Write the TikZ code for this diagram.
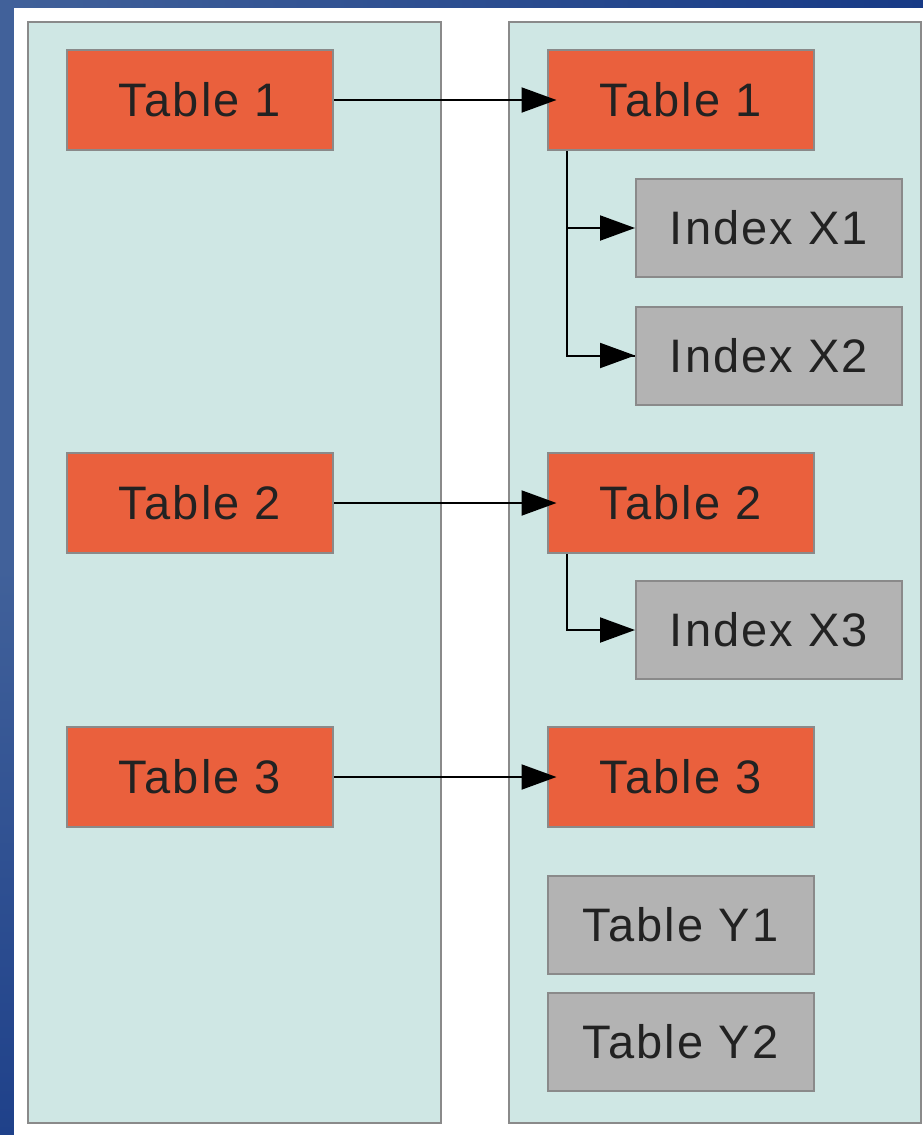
\documentclass[tikz,border=0pt]{standalone}
\usepackage{fontspec}
\setmainfont{Liberation Sans}[LetterSpace=4.5]
\usetikzlibrary{arrows.meta,calc}
\definecolor{frameblue}{HTML}{173A86}
\definecolor{frameblueL}{HTML}{41619A}
\definecolor{frameblueB}{HTML}{1F418A}
\definecolor{panel}{HTML}{CFE7E4}
\definecolor{tablefill}{HTML}{EA603D}
\definecolor{greyfill}{HTML}{B3B3B3}
\definecolor{edgegrey}{HTML}{8A8A8A}
\definecolor{ink}{HTML}{222222}
\tikzset{
  panelbox/.style={draw=edgegrey, line width=2.2pt, fill=panel},
  tbl/.style={draw=edgegrey, line width=2pt, fill=tablefill, minimum width=266pt,
    minimum height=100pt, inner sep=0pt, text=ink, font=\fontsize{47}{50}\selectfont},
  idx/.style={tbl, fill=greyfill, minimum height=98pt},
  link/.style={draw=black, line width=2pt,
    -{Triangle[length=35pt,width=25pt]}},
  branch/.style={draw=black, line width=2pt}
}
\begin{document}
\begin{tikzpicture}[x=1pt,y=-1pt]
\useasboundingbox (0,0) rectangle (923,1135);
% frame: left strip lighter at the top, top strip darkening to the right
\shade[top color=frameblueL, bottom color=frameblueB, middle color=frameblueL]
  (0,0) rectangle (14,1135);
\shade[left color=frameblueL, right color=frameblue] (0,0) rectangle (923,8);
\fill[white] (14,8) rectangle (923,1135);
% the two panels
\draw[panelbox] (28,22) rectangle (441,1123);
\draw[panelbox] (509,22) rectangle (921,1123);
% left panel tables
\node[tbl] (l1) at (200,100) {Table 1};
\node[tbl] (l2) at (200,503) {Table 2};
\node[tbl] (l3) at (200,777) {Table 3};
% right panel tables and indexes
\node[tbl] (r1) at (680.5,100) {Table 1};
\node[idx] (x1) at (769,228) {Index X1};
\node[idx] (x2) at (769,355.5) {Index X2};
\node[tbl] (r2) at (680.5,503) {Table 2};
\node[idx] (x3) at (769,630) {Index X3};
\node[tbl] (r3) at (680.5,777) {Table 3};
\node[idx] (y1) at (680.5,924.5) {Table Y1};
\node[idx] (y2) at (680.5,1041.5) {Table Y2};
% copies
\draw[link, shorten >=-10pt] (l1.east) -- (r1.west);
\draw[link, shorten >=-10pt] (l2.east) -- (r2.west);
\draw[link, shorten >=-10pt] (l3.east) -- (r3.west);
% index links
\coordinate (t1) at ($(r1.south west)+(20,0)$);
\coordinate (t2) at ($(r2.south west)+(20,0)$);
\draw[branch] (t1) |- (x2.west);
\draw[link] (t1) |- (x1.west);
\draw[link] (t1) |- (x2.west);
\draw[link] (t2) |- (x3.west);
\end{tikzpicture}
\end{document}
